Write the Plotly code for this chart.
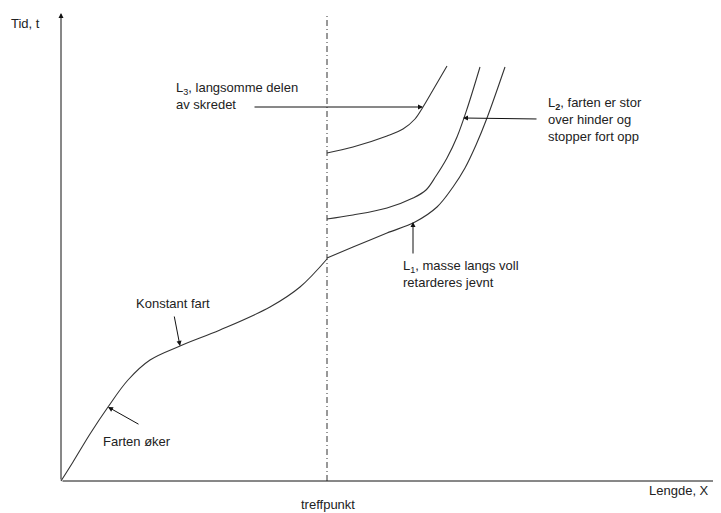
import plotly.graph_objects as go

# coordinates: x = length along path, t = time (origin at the axes crossing)
main_x = [0, 12, 29, 47, 67, 89, 119, 159, 209, 239, 266]
main_t = [0, 19, 47, 74, 101, 121, 135, 151, 174, 194, 222]

l1_x = [266, 292, 326, 354, 376, 392, 404, 415, 426, 444]
l1_t = [223, 234, 248, 259, 274, 294, 313, 336, 363, 414]

l2_x = [266, 292, 326, 352, 365, 375, 386, 396, 406, 419]
l2_t = [262, 266, 273, 283, 291, 305, 323, 344, 372, 414]

l3_x = [266, 292, 326, 342, 354, 362, 372, 386]
l3_t = [328, 334, 345, 352, 362, 374, 391, 415]

treff_x = 266
axis_top = 468
axis_right = 659

line_col = "#333333"
text_col = "#222222"
font = dict(family="Arial, Liberation Sans, sans-serif", size=13, color=text_col)

fig = go.Figure()

for xs, ts in [(main_x, main_t), (l1_x, l1_t), (l2_x, l2_t), (l3_x, l3_t)]:
    fig.add_scatter(x=xs, y=ts, mode="lines", line_shape="spline",
                    line=dict(color=line_col, width=1.1), hoverinfo="skip")

# treffpunkt line
fig.add_scatter(x=[treff_x, treff_x], y=[0, 466], mode="lines",
                line=dict(color=line_col, width=1, dash="6px,3px,1px,3px"),
                hoverinfo="skip")


def arrow(x_head, y_head, x_tail, y_tail):
    fig.add_annotation(x=x_head, y=y_head, ax=x_tail, ay=y_tail,
                       xref="x", yref="y", axref="x", ayref="y",
                       text="", showarrow=True, arrowhead=2, arrowsize=1,
                       arrowwidth=1, arrowcolor="#111111", standoff=0)


# axes with arrowheads
arrow(0, axis_top, 0, 0)
arrow(axis_right, 0, 0, 0)

# pointer arrows
arrow(47, 74, 79, 56)        # Farten øker
arrow(119, 135, 113, 166)    # Konstant fart
arrow(352, 259, 352, 226)    # L1
arrow(402, 363, 477, 362)    # L2
arrow(362, 374, 192, 374)    # L3


def label(x, y, text, xanchor="left"):
    fig.add_annotation(x=x, y=y, xref="x", yref="y", text=text,
                       showarrow=False, xanchor=xanchor, yanchor="middle",
                       align="left", font=font)


label(-52, 458, "Tid, t")
label(586, -9, "Lengde, X")
label(267, -23, "treffpunkt", xanchor="center")
label(40, 40, "Farten øker")
label(73, 178, "Konstant fart")
label(113, 385, "L<sub>3</sub>, langsomme delen<br>av skredet")
label(485, 362, "L<sub><b>2</b></sub>, farten er stor<br>over hinder og<br>stopper fort opp")
label(340, 207, "L<sub>1</sub>, masse langs voll<br>retarderes jevnt")

# the page body adds an 8px margin, so the figure is sized to fit the rest
fig.update_layout(
    width=713,
    height=505,
    margin=dict(l=0, r=0, t=0, b=0),
    paper_bgcolor="white",
    plot_bgcolor="white",
    showlegend=False,
    xaxis=dict(range=[-53, 660], visible=False, fixedrange=True),
    yaxis=dict(range=[-32, 473], visible=False, fixedrange=True),
)

fig.write_html("out.html")
